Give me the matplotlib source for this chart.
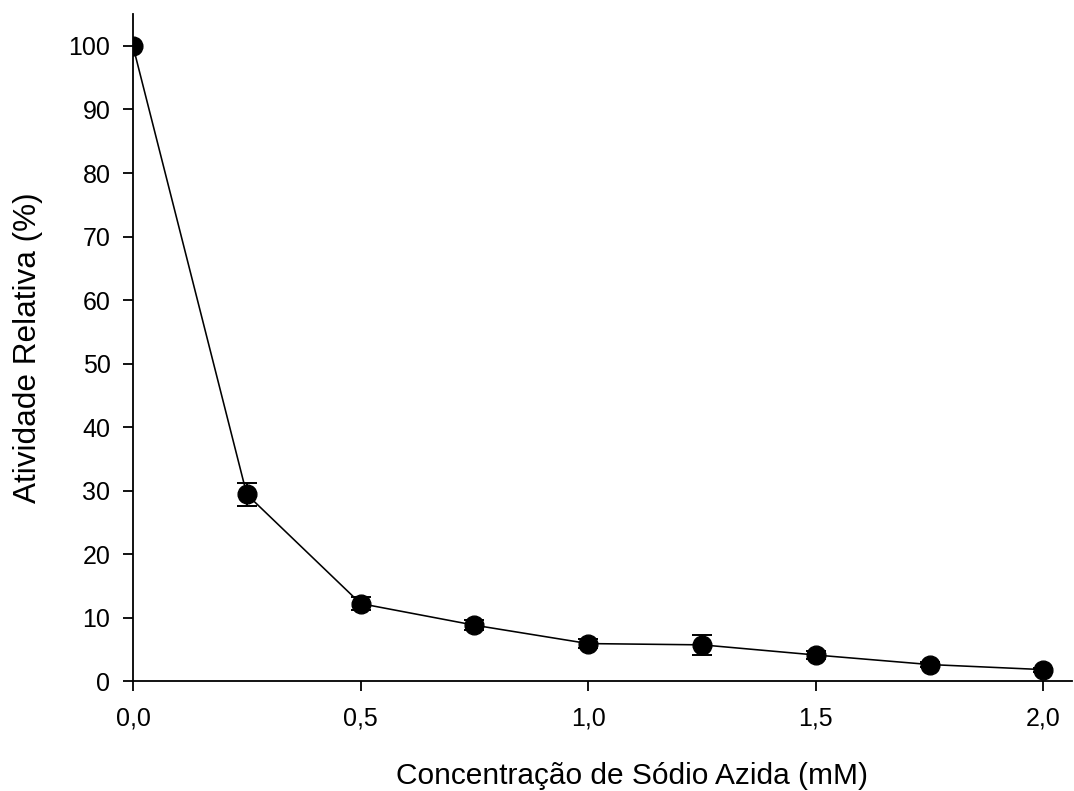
import matplotlib

matplotlib.use("Agg")
import matplotlib.pyplot as plt
from matplotlib.ticker import FuncFormatter

# sodium azide concentration (mM) vs relative activity (%)
conc = [0.0, 0.25, 0.5, 0.75, 1.0, 1.25, 1.5, 1.75, 2.0]
activity = [100.0, 29.4, 12.2, 8.8, 5.9, 5.7, 4.1, 2.6, 1.8]
err = [0.0, 1.8, 1.0, 0.8, 0.7, 1.6, 0.7, 0.4, 0.3]

xticks = [0.0, 0.5, 1.0, 1.5, 2.0]
yticks = list(range(0, 101, 10))

plt.rcParams["font.family"] = ["Liberation Sans", "DejaVu Sans"]

fig = plt.figure(figsize=(10.74, 7.91), dpi=100)
ax = fig.add_axes([0.1238, 0.139, 0.874, 0.843])

ax.errorbar(conc, activity, yerr=err, color="black", lw=1.15,
            marker="o", markersize=13.5, capsize=7.4, capthick=1.4,
            elinewidth=1.4, zorder=3)

ax.set_xlim(0, 2.062)
ax.set_ylim(0, 105)
ax.set_xticks(xticks)
ax.set_yticks(yticks)
ax.xaxis.set_major_formatter(FuncFormatter(lambda v, p: f"{v:.1f}".replace(".", ",")))
ax.tick_params(axis="both", labelsize=18, length=7.2, width=1.3, direction="out")
ax.tick_params(axis="x", pad=11)
ax.tick_params(axis="y", pad=9)

for s in ("top", "right"):
    ax.spines[s].set_visible(False)
for s in ("left", "bottom"):
    ax.spines[s].set_linewidth(1.3)

ax.set_xlabel("Concentração de Sódio Azida (mM)", fontsize=21.5)
ax.set_ylabel("Atividade Relativa (%)", fontsize=22.7)
ax.xaxis.set_label_coords(0.532, -0.121)
ax.yaxis.set_label_coords(-0.0955, 0.5)

fig.savefig("out.png", dpi=100)
